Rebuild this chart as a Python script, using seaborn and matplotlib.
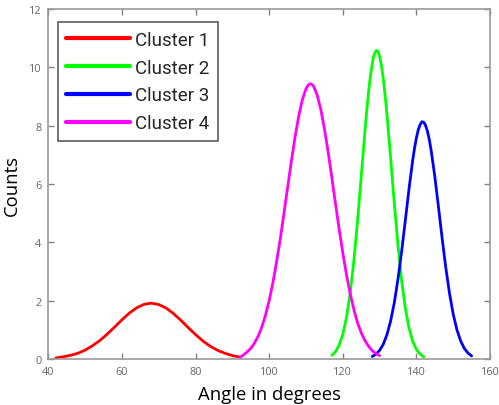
import pandas as pd
import matplotlib.pyplot as plt
import seaborn as sns

# values
c1_x = [42, 44, 46, 48, 50, 52, 54, 56, 58, 60, 62, 64, 66, 68, 70, 72, 74, 76, 78, 80, 82, 84, 86, 88, 90, 92]
c1_y = [0.04, 0.08, 0.13, 0.20, 0.31, 0.46, 0.64, 0.86, 1.10, 1.35, 1.58, 1.76, 1.88, 1.92, 1.87, 1.75, 1.56, 1.33,
        1.08, 0.84, 0.62, 0.44, 0.30, 0.20, 0.12, 0.07]

c2_x = [117, 118, 119, 120, 121, 122, 123, 124, 125, 126, 126.5, 127, 127.5, 128, 128.5, 129, 129.5, 130, 130.5, 131,
        131.5, 132, 133, 134, 135, 136, 137, 138, 139, 140, 141, 142]
c2_y = [0.13, 0.25, 0.48, 0.85, 1.43, 2.26, 3.37, 4.73, 6.26, 7.80, 8.52, 9.16, 9.71, 10.14, 10.43, 10.57, 10.57,
        10.38, 10.06, 9.61, 9.04, 8.38, 6.88, 5.33, 3.89, 2.67, 1.73, 1.06, 0.61, 0.33, 0.17, 0.08]

c3_x = [128, 129, 130, 131, 132, 133, 134, 135, 136, 137, 138, 139, 139.5, 140, 140.5, 141, 141.5, 142, 142.5, 143,
        143.5, 144, 145, 146, 147, 148, 149, 150, 151, 152, 153, 154, 155]
c3_y = [0.09, 0.17, 0.30, 0.51, 0.84, 1.31, 1.94, 2.75, 3.71, 4.77, 5.85, 6.83, 7.24, 7.59, 7.86, 8.04, 8.14, 8.12,
        8.01, 7.81, 7.53, 7.16, 6.26, 5.21, 4.13, 3.12, 2.25, 1.54, 1.01, 0.63, 0.37, 0.21, 0.11]

c4_x = [92, 93, 94, 95, 96, 97, 98, 99, 100, 101, 102, 103, 104, 105, 106, 107, 108, 109, 110, 110.5, 111, 111.5, 112,
        113, 114, 115, 116, 117, 118, 119, 120, 121, 122, 123, 124, 125, 126, 127, 128, 129, 130]
c4_y = [0.05, 0.14, 0.25, 0.37, 0.55, 0.79, 1.10, 1.51, 2.01, 2.62, 3.33, 4.12, 4.99, 5.88, 6.77, 7.60, 8.32, 8.89,
        9.27, 9.38, 9.44, 9.43, 9.37, 9.07, 8.57, 7.90, 7.11, 6.24, 5.34, 4.46, 3.64, 2.89, 2.25, 1.70, 1.25, 0.90,
        0.64, 0.44, 0.29, 0.19, 0.12]

names = ["Cluster 1", "Cluster 2", "Cluster 3", "Cluster 4"]
colors = ["#ff0000", "#00ff00", "#0000ff", "#ff00ff"]

frames = []
for name, xs, ys in zip(names, [c1_x, c2_x, c3_x, c4_x], [c1_y, c2_y, c3_y, c4_y]):
    frames.append(pd.DataFrame({"angle": xs, "count": ys, "cluster": name}))
df = pd.concat(frames, ignore_index=True)

sns.set_style("white")
plt.rcParams["font.family"] = ["Open Sans", "DejaVu Sans"]

fig = plt.figure(figsize=(4.99, 4.06), dpi=100)
ax = fig.add_axes([0.097, 0.113, 0.885, 0.862])

sns.lineplot(data=df, x="angle", y="count", hue="cluster", palette=dict(zip(names, colors)),
             linewidth=2, estimator=None, ax=ax)

ax.set_xlim(40, 160)
ax.set_ylim(0, 12)
ax.set_xticks([40, 60, 80, 100, 120, 140, 160])
ax.set_yticks([0, 2, 4, 6, 8, 10, 12])
ax.tick_params(direction="in", length=4, width=1, color="#808080", labelcolor="#666666",
               labelsize=7.8, pad=5, top=True, right=True, bottom=True, left=True)
for s in ax.spines.values():
    s.set_color("#999999")
    s.set_linewidth(1.2)

ax.set_xlabel("Angle in degrees", fontsize=13.3, color="black", labelpad=6)
ax.set_ylabel("Counts", fontsize=13.3, color="black", labelpad=6)

leg = ax.legend(loc="upper left", bbox_to_anchor=(0.021, 0.962), frameon=True, fancybox=False,
                edgecolor="#333333", handlelength=3.4, handletextpad=0.3, borderpad=0.45,
                borderaxespad=0, labelspacing=0.52, prop={"family": "Roboto", "size": 13.5})
leg.get_frame().set_linewidth(1.2)
for text in leg.get_texts():
    text.set_color("#262626")
for line in leg.get_lines():
    line.set_linewidth(3)

fig.savefig("out.png", dpi=100)
